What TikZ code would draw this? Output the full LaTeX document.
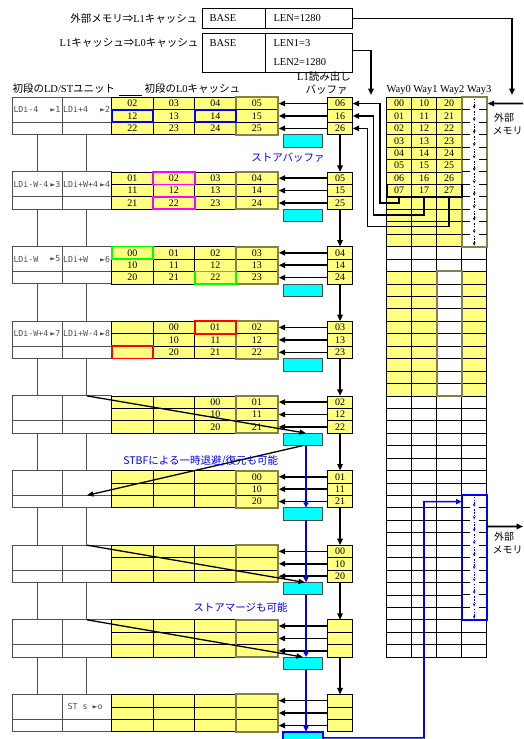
\documentclass[tikz,border=0pt]{standalone}
\usepackage{fontspec}
\setmainfont{Liberation Serif}
\newfontfamily\jpf{Noto Sans CJK JP}
\newfontfamily\monof{DejaVu Sans Mono}
\usetikzlibrary{arrows.meta,calc}
\definecolor{yell}{HTML}{FFFF80}
\definecolor{olv}{HTML}{857F4A}
\definecolor{cyn}{HTML}{00FFFF}
\definecolor{mag}{HTML}{FF00FF}
\definecolor{grn}{HTML}{00FF00}
\definecolor{ugray}{HTML}{505050}
\newcommand{\jp}[1]{{\jpf #1}}
\tikzset{
  every node/.append style={font=\fontsize{10.5}{12}\selectfont},
  cell/.style={draw=black, line width=0.7pt, fill=yell, minimum width=41.5pt, minimum height=12.44pt, inner sep=0pt, outer sep=0pt, font=\fontsize{10}{10}\selectfont},
  bcell/.style={cell, minimum width=25.3pt},
  lcell/.style={line width=0.7pt, minimum width=25pt, minimum height=12.44pt, inner sep=0pt, outer sep=0pt, font=\fontsize{10}{10}\selectfont},
  ubox/.style={draw=ugray, line width=0.9pt, fill=white, minimum width=49.7pt, inner sep=0pt, outer sep=0pt},
  ulab/.style={font=\monof\fontsize{8.3}{9}\selectfont, text=ugray, inner sep=0pt},
  uconn/.style={draw=ugray, line width=0.9pt},
  sbuf/.style={draw=black!70, fill=cyn, line width=0.8pt, minimum width=39.4pt, minimum height=12.4pt, inner sep=0pt, outer sep=0pt},
  arr/.style={line width=1.6pt, -{Triangle[length=6.5pt,width=5.5pt]}},
  darr/.style={line width=1.3pt, -{Triangle[length=6.5pt,width=5pt]}},
  barr/.style={draw=blue, line width=1.6pt, -{Triangle[length=5.5pt,width=5pt]}},
  hl/.style={draw=#1, line width=1.7pt},
  olvbox/.style={draw=olv, line width=2pt},
  tbox/.style={draw=black, line width=0.8pt, inner sep=0pt, outer sep=0pt},
  dline/.style={line width=0.9pt, dash pattern=on 8pt off 9pt},
  darrow/.style={line width=0.6pt, dash pattern=on 1.5pt off 1.2pt, -{Stealth[length=3.2pt,width=2.8pt]}},
}
\begin{document}
\begin{tikzpicture}[x=1pt,y=-1pt]
\useasboundingbox (0,0) rectangle (523,739);
\clip (0,0) rectangle (523,739);

% ---------- top boxes ----------
\node[tbox, minimum width=63pt, minimum height=20pt] (b1a) at (233.5,18.3) {};
\node[tbox, minimum width=87pt, minimum height=20pt] (b1b) at (308.5,18.3) {};
\node[tbox, minimum width=63pt, minimum height=39.7pt] (b2a) at (233.5,52.85) {};
\node[tbox, minimum width=87pt, minimum height=39.7pt] (b2b) at (308.5,52.85) {};
\node[anchor=west] (t1) at (206,18.3) {BASE};
\node[anchor=west] (t2) at (270,18.3) {LEN=1280};
\node[anchor=west] (t3) at (206,42.7) {BASE};
\node[anchor=west] (t4) at (270,42.7) {LEN1=3};
\node[anchor=west] (t5) at (270,61.7) {LEN2=1280};
\node[anchor=east] (lab1) at (201,18.3) {\jp{外部メモリ⇒}L1\jp{キャッシュ}};
\node[anchor=east] (lab2) at (202,42.7) {L1\jp{キャッシュ⇒}L0\jp{キャッシュ}};

% ---------- headers ----------
\node[anchor=west] (h1) at (9,88.5) {\jp{初段の}LD/ST\jp{ユニット}};
\node[anchor=west] (h2) at (141,88.5) {\jp{初段の}L0\jp{キャッシュ}};
\draw[line width=0.7pt] (119,95.8) -- (142,95.8);
\node (h3) at (324,77) {L1\jp{読み出し}};
\node (h4) at (326.5,90) {\jp{バッファ}};
\node[anchor=west] (h5) at (383,90) {Way0 Way1 Way2 Way3};

% ---------- stages ----------
\foreach \k in {1,...,9}{
  \pgfmathsetmacro\sT{97.3+74.64*(\k-1)}
  \node[ubox, minimum height=24.88pt] (u-\k-a) at (37.15,\sT+12.44) {};
  \node[ubox, minimum height=24.88pt] (u-\k-b) at (86.85,\sT+12.44) {};
  \node[ubox, minimum height=12.44pt] (u-\k-c) at (37.15,\sT+31.1) {};
  \node[ubox, minimum height=12.44pt] (u-\k-d) at (86.85,\sT+31.1) {};
  \foreach \j in {1,2,3}{
    \pgfmathtruncatemacro\rr{\j-1}
    \foreach \c in {1,...,4}{
      \pgfmathtruncatemacro\cv{\c+2-\k}
      \node[cell] (ca-\k-\j-\c) at ({111.7+41.5*(\c-0.5)},{\sT+12.44*(\j-0.5)}) {\ifnum\cv<0 \else\rr\cv\fi};
    }
    \pgfmathtruncatemacro\bv{7-\k}
    \node[bcell] (bf-\k-\j) at (340.05,{\sT+12.44*(\j-0.5)}) {\ifnum\bv<0 \else\rr\bv\fi};
  }
  \draw[olvbox] (ca-\k-1-4.north west) rectangle (ca-\k-3-4.south east);
  \node[sbuf] (sb-\k) at (303,\sT+43.52) {};
}
\draw[blue, line width=1.8pt] (sb-9.north west) rectangle (sb-9.south east);

% unit labels
\foreach \k/\la/\ra/\lb/\rb in {1/LDi-4/►1/LDi+4/►2, 2/LDi-W-4/►3/LDi+W+4/►4, 3/LDi-W/►5/LDi+W/►6, 4/LDi-W+4/►7/LDi+W-4/►8}{
  \node[ulab, anchor=west] (la-\k) at ([xshift=1pt]u-\k-a.west) {\la};
  \node[ulab, anchor=east] (ra-\k) at ([xshift=-1.5pt]u-\k-a.east) {\ra};
  \node[ulab, anchor=west] (lb-\k) at ([xshift=1pt]u-\k-b.west) {\lb};
  \node[ulab, anchor=east] (rb-\k) at ([xshift=-1.5pt]u-\k-b.east) {\rb};
}
\node[ulab, anchor=west] (st9) at ([xshift=5.5pt]u-9-b.west) {ST s ►o};

% highlights
\draw[hl=blue] (ca-1-2-1.north west) rectangle (ca-1-2-1.south east);
\draw[hl=blue] (ca-1-2-3.north west) rectangle (ca-1-2-3.south east);
\draw[hl=mag] (ca-2-1-2.north west) rectangle (ca-2-1-2.south east);
\draw[hl=mag] (ca-2-3-2.north west) rectangle (ca-2-3-2.south east);
\draw[hl=grn] (ca-3-1-1.north west) rectangle (ca-3-1-1.south east);
\draw[hl=grn] (ca-3-3-3.north west) rectangle (ca-3-3-3.south east);
\draw[hl=red] (ca-4-1-3.north west) rectangle (ca-4-1-3.south east);
\draw[hl=red] (ca-4-3-1.north west) rectangle (ca-4-3-1.south east);

% unit connectors
\foreach \k in {1,...,8}{
  \pgfmathtruncatemacro\kk{\k+1}
  \draw[uconn] (u-\k-c.south) -- (u-\kk-a.north);
  \draw[uconn] (u-\k-d.south) -- (u-\kk-b.north);
}

% buffer -> cache arrows and vertical buffer arrows
\foreach \k in {1,...,9}{
  \foreach \j in {1,2,3}{
    \draw[arr, shorten >=1pt] (bf-\k-\j.west) -- (ca-\k-\j-4.east);
  }
}
\foreach \k in {1,...,8}{
  \pgfmathtruncatemacro\kk{\k+1}
  \draw[arr] (bf-\k-3.south) -- (bf-\kk-1.north);
}

% ---------- L1 cache ----------
\foreach \i in {0,...,44}{
  \foreach \w in {0,...,3}{
    \pgfmathtruncatemacro\isy{((\i<12 && \w<3) || (\i>13 && \i<24 && \w!=2)) ? 1 : 0}
    \pgfmathtruncatemacro\isd{(\w==3 && (\i<12 || (\i>31 && \i<42))) ? 1 : 0}
    \pgfmathtruncatemacro\hasT{(\i<8 && \w<3) ? 1 : 0}
    \ifnum\isy=1 \def\fc{yell}\else\def\fc{white}\fi
    \ifnum\isd=1 \def\dc{none}\else\def\dc{black}\fi
    \node[lcell, fill=\fc, draw=\dc] (L-\i-\w) at ({399.2+25*\w},{97.3+12.44*(\i+0.5)}) {\ifnum\hasT=1 \w\i\fi};
  }
}
\draw[olvbox] (L-0-3.north west) rectangle (L-11-3.south east);
\draw[olvbox] (L-14-2.north west) rectangle (L-23-2.south east);
\foreach \i in {1,...,11}{
  \draw[dline] (L-\i-3.north west) -- (L-\i-3.north east);
}
\foreach \i in {0,...,11}{
  \draw[darrow] ([yshift=-1.5pt]L-\i-3.north) -- ([yshift=1pt]L-\i-3.south);
}
\draw[blue, line width=2pt] (L-32-3.north west) rectangle (L-41-3.south east);
\foreach \i in {33,...,41}{
  \draw[dline] (L-\i-3.north west) -- (L-\i-3.north east);
}
\foreach \i in {32,...,41}{
  \draw[darrow, blue] ([yshift=-1.5pt]L-\i-3.north) -- ([yshift=1pt]L-\i-3.south);
}
\draw[line width=1.6pt] (L-7-0.north west) rectangle (L-7-2.south east);

% L1 -> read buffer
\coordinate (k07) at (380,203);
\coordinate (k17) at (373.5,214.7);
\coordinate (k27) at (367.5,226.5);
\draw[arr] (L-7-0.south) |- (k07) |- (bf-1-1.east);
\draw[arr] (L-7-1.south) |- (k17) |- (bf-1-2.east);
\draw[arr] (L-7-2.south) |- (k27) |- (bf-1-3.east);

% top arrows
\coordinate (b2out) at (352.5,50.5);
\coordinate (inL0) at (371,95);
\coordinate (inL1) at (512,95);
\draw[arr] (b2out) -| (inL0);
\draw[arr] (b1b.east) -| (inL1);

% external memory
\coordinate (extin) at (524,103.5);
\draw[arr] (extin) -- ([xshift=1pt]L-0-3.east);
\node[anchor=west, inner sep=0pt, font=\fontsize{10}{12}\selectfont] (em1) at (494,118) {\jp{外部}};
\node[anchor=west, inner sep=0pt, font=\fontsize{10}{12}\selectfont] (em2) at (492.5,131) {\jp{メモリ}};
\coordinate (extout) at (523,526.5);
\draw[arr] (L-34-3.east) -- (extout);
\node[anchor=west, inner sep=0pt, font=\fontsize{10}{12}\selectfont] (em3) at (494,537) {\jp{外部}};
\node[anchor=west, inner sep=0pt, font=\fontsize{10}{12}\selectfont] (em4) at (492.5,550) {\jp{メモリ}};

% store-buffer paths
\draw[darr] (u-5-b.north) -- ([xshift=3pt]sb-5.north);
\draw[darr] ([xshift=0pt]sb-5.south) -- (u-6-d.north);
\draw[darr] (u-7-b.north) -- ([xshift=2pt]sb-7.north);
\draw[darr] (u-8-b.north) -- (sb-8.north);
\foreach \k in {5,...,8}{
  \pgfmathtruncatemacro\kk{\k+1}
  \draw[barr, line width=1.4pt] ([xshift=3pt]sb-\k.south) -- ([xshift=3pt]sb-\kk.north);
}
\coordinate (bturn) at (424,501.6);
\draw[barr] (sb-9.east) -| (bturn) -- (L-32-3.west);

% blue texts
\node[text=blue] (n1) at (288,158) {\jp{ストアバッファ}};
\node[text=blue] (n2) at (200.8,461) {\jp{STBFによる一時退避/復元も可能}};
\node[text=blue] (n3) at (240.5,607) {\jp{ストアマージも可能}};
\end{tikzpicture}
\end{document}
